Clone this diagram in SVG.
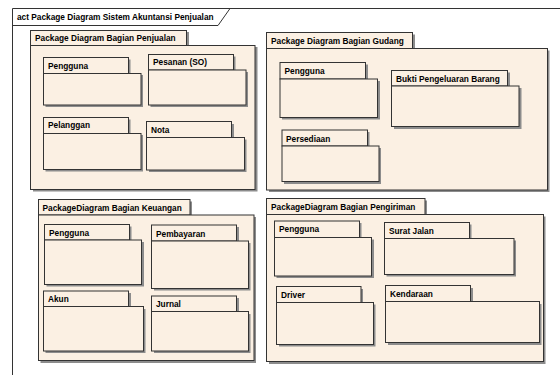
<svg xmlns="http://www.w3.org/2000/svg" width="560" height="375" viewBox="0 0 560 375">
<defs>
<style>
.bg{fill:#ffffff}
.frame{fill:none;stroke:#333333;stroke-width:1}
.tab,.body{fill:#FBF0E3;stroke:#333333;stroke-width:1}
.sh{fill:#8c8c8c}
.t{font-family:"Liberation Sans",Arial,sans-serif;font-weight:bold;font-size:8.3px;fill:#000000}
</style>
</defs>
<rect class="bg" x="0" y="0" width="560" height="375"/>
<g id="frame">
<path class="frame" d="M12.5,380 V8.5 H570"/>
<path class="frame" d="M12.5,25.5 H218 L230,8.5"/>
<text class="t" x="17" y="20">act Package Diagram Sistem Akuntansi Penjualan</text>
</g>

<g id="pkg-penjualan">
<path class="sh" d="M33,32 H189 V47 H257.5 V191.5 H33 Z"/>
<rect class="tab" x="30.5" y="30.5" width="156" height="15"/>
<rect class="body" x="30.5" y="45.5" width="224.5" height="144"/>
<text class="t" x="35" y="41">Package Diagram Bagian Penjualan</text>
</g>
<g id="penjualan-pengguna">
<path class="sh" d="M45.5,59.5 H130.5 V75 H143 V107 H45.5 Z"/>
<rect class="tab" x="43.5" y="57.5" width="85" height="16"/>
<rect class="body" x="43.5" y="73.5" width="97.5" height="31.5"/>
<text class="t" x="48" y="68.5">Pengguna</text>
</g>
<g id="penjualan-pesanan">
<path class="sh" d="M150.5,56.5 H235.5 V72 H248 V107 H150.5 Z"/>
<rect class="tab" x="148.5" y="54.5" width="85" height="15.5"/>
<rect class="body" x="148.5" y="70" width="97.5" height="35"/>
<text class="t" x="153" y="65">Pesanan (SO)</text>
</g>
<g id="penjualan-pelanggan">
<path class="sh" d="M45.5,119.5 H130.5 V135 H143 V171.5 H45.5 Z"/>
<rect class="tab" x="43.5" y="117.5" width="85" height="16"/>
<rect class="body" x="43.5" y="133.5" width="97.5" height="36"/>
<text class="t" x="48" y="128">Pelanggan</text>
</g>
<g id="penjualan-nota">
<path class="sh" d="M149,124 H234 V139.5 H246.5 V172 H149 Z"/>
<rect class="tab" x="146.5" y="121.5" width="85" height="16"/>
<rect class="body" x="146.5" y="137.5" width="98" height="32.5"/>
<text class="t" x="151" y="133">Nota</text>
</g>

<g id="pkg-gudang">
<path class="sh" d="M269,34.5 H415 V50.5 H549.5 V192 H269 Z"/>
<rect class="tab" x="266.5" y="32.5" width="146" height="16"/>
<rect class="body" x="266.5" y="48.5" width="281" height="141.5"/>
<text class="t" x="271" y="44">Package Diagram Bagian Gudang</text>
</g>
<g id="gudang-pengguna">
<path class="sh" d="M282,64.5 H368 V81 H380 V119.5 H282 Z"/>
<rect class="tab" x="280" y="62.5" width="85.5" height="16.5"/>
<rect class="body" x="280" y="79" width="97.5" height="38.5"/>
<text class="t" x="284.5" y="73.5">Pengguna</text>
</g>
<g id="gudang-bukti">
<path class="sh" d="M394,72.5 H510 V88 H521.5 V129 H394 Z"/>
<rect class="tab" x="391.5" y="70.5" width="116" height="15.5"/>
<rect class="body" x="391.5" y="86" width="127.5" height="40.5"/>
<text class="t" x="396" y="81.5">Bukti Pengeluaran Barang</text>
</g>
<g id="gudang-persediaan">
<path class="sh" d="M284,132 H369.5 V148 H381 V184 H284 Z"/>
<rect class="tab" x="282" y="130" width="85.5" height="16"/>
<rect class="body" x="282" y="146" width="97" height="35.5"/>
<text class="t" x="286" y="141.5">Persediaan</text>
</g>

<g id="pkg-keuangan">
<path class="sh" d="M40.5,201.5 H192 V217 H256 V363 H40.5 Z"/>
<rect class="tab" x="38.5" y="199.5" width="151.5" height="15.5"/>
<rect class="body" x="38.5" y="215" width="215.5" height="145.5"/>
<text class="t" x="42.5" y="210.5">PackageDiagram Bagian Keuangan</text>
</g>
<g id="keuangan-pengguna">
<path class="sh" d="M46.5,226.5 H131.5 V242 H144 V286.5 H46.5 Z"/>
<rect class="tab" x="44.5" y="224.5" width="85" height="15.5"/>
<rect class="body" x="44.5" y="240" width="97" height="44.5"/>
<text class="t" x="49" y="235.5">Pengguna</text>
</g>
<g id="keuangan-pembayaran">
<path class="sh" d="M154,227 H239 V243 H250.5 V290.5 H154 Z"/>
<rect class="tab" x="151.5" y="225" width="85" height="16"/>
<rect class="body" x="151.5" y="241" width="97" height="47.5"/>
<text class="t" x="156" y="236.5">Pembayaran</text>
</g>
<g id="keuangan-akun">
<path class="sh" d="M45.5,293 H131 V309 H145.5 V353 H45.5 Z"/>
<rect class="tab" x="43.5" y="291" width="85" height="15.5"/>
<rect class="body" x="43.5" y="306.5" width="100" height="44.5"/>
<text class="t" x="48" y="301.5">Akun</text>
</g>
<g id="keuangan-jurnal">
<path class="sh" d="M154,298 H239 V314 H250.5 V353 H154 Z"/>
<rect class="tab" x="151.5" y="296" width="85" height="15.5"/>
<rect class="body" x="151.5" y="311.5" width="97" height="39.5"/>
<text class="t" x="156" y="307">Jurnal</text>
</g>

<g id="pkg-pengiriman">
<path class="sh" d="M269,200.5 H427 V216.5 H545.5 V364 H269 Z"/>
<rect class="tab" x="266.5" y="198.5" width="158.5" height="16"/>
<rect class="body" x="266.5" y="214.5" width="277" height="147"/>
<text class="t" x="271" y="209.5">PackageDiagram Bagian Pengiriman</text>
</g>
<g id="pengiriman-pengguna">
<path class="sh" d="M276.5,223 H361.5 V239.5 H374 V278 H276.5 Z"/>
<rect class="tab" x="274.5" y="221" width="85" height="16.5"/>
<rect class="body" x="274.5" y="237.5" width="97" height="38.5"/>
<text class="t" x="279" y="232">Pengguna</text>
</g>
<g id="pengiriman-suratjalan">
<path class="sh" d="M386.5,224.5 H471.5 V240.5 H516 V276.5 H386.5 Z"/>
<rect class="tab" x="384.5" y="222.5" width="85" height="16"/>
<rect class="body" x="384.5" y="238.5" width="129.5" height="36"/>
<text class="t" x="389" y="233.5">Surat Jalan</text>
</g>
<g id="pengiriman-driver">
<path class="sh" d="M279,289 H363 V304.5 H375.5 V346.5 H279 Z"/>
<rect class="tab" x="276.5" y="286.5" width="84.5" height="16"/>
<rect class="body" x="276.5" y="302.5" width="97" height="42"/>
<text class="t" x="281" y="298">Driver</text>
</g>
<g id="pengiriman-kendaraan">
<path class="sh" d="M388,288 H473 V304 H541.5 V345 H388 Z"/>
<rect class="tab" x="385.5" y="285.5" width="85" height="16"/>
<rect class="body" x="385.5" y="301.5" width="154" height="41"/>
<text class="t" x="390" y="297">Kendaraan</text>
</g>
<g id="connectors"></g>
</svg>
